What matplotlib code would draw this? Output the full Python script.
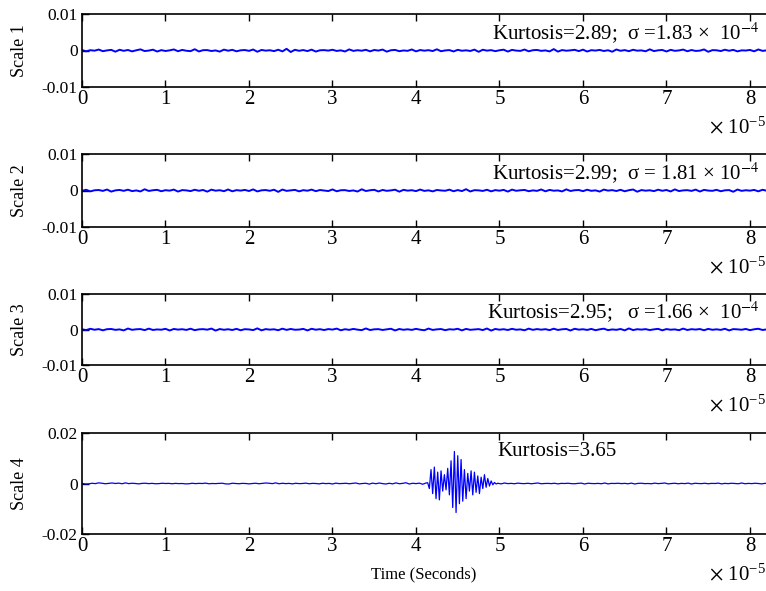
import numpy as np
import matplotlib
matplotlib.use("Agg")
import matplotlib.pyplot as plt

plt.rcParams['font.family'] = ['Liberation Serif', 'DejaVu Serif']
plt.rcParams['mathtext.fontset'] = 'stix'

# valores em unidades de 1e-4 (amplitude), tempo em unidades de 1e-5 s
escala1 = [
    1.2, -2.1, 0.8, -0.5, 2.6, -1.9, 0.3, 1.7, -3.2, 2.0, -0.9, 1.4, -2.4, 0.6, 3.1, -1.5, -0.2, 2.2, -2.8, 1.0,
    -1.3, 0.4, 2.9, -2.0, 1.6, -0.7, -1.8, 3.5, -2.6, 0.9, 1.1, -1.4, 0.2, -3.0, 2.4, -0.6, 1.8, -2.2, 0.5, 1.3,
    -1.0, 2.7, -3.4, 1.5, -0.4, 0.7, -1.7, 2.1, -2.5, 4.6, -4.1, 1.9, -0.8, 1.2, -1.6, 2.3, -2.9, 0.6, 1.0, -0.3,
    2.0, -1.2, 0.4, -2.7, 3.0, -1.1, 0.8, -0.6, 1.9, -2.3, 1.4, -0.2, 2.5, -3.1, 0.7, 1.6, -1.9, 0.1, -0.9, 2.8,
    -2.4, 1.3, -0.5, 0.9, -1.5, 3.3, -2.0, 0.2, 1.1, -2.6, 1.8, -0.7, 0.5, -1.3, 2.4, -3.6, 2.1, -0.4, 1.0, -1.8,
    0.6, 2.2, -2.9, 1.7, -0.3, -1.1, 2.6, -2.2, 0.8, 1.5, -1.0, 0.3, -2.5, 3.8, -3.0, 1.2, -0.6, 0.4, 1.9, -1.7,
    2.3, -2.8, 0.9, -0.2, 1.6, -1.4, 0.7, -3.3, 2.7, -0.8, 1.1, -1.9, 2.0, -0.5, 0.3, -2.1, 3.2, -1.6, 0.5, 1.4,
    -2.7, 1.8, -0.9, 0.2, 2.5, -2.0, 1.3, -1.2, -0.4, 2.9, -3.5, 1.0, 0.6, -1.5, 2.1, -0.7, 1.7, -2.4, 0.4, -0.1,
    1.5, -2.2, 2.8, -1.0, 0.3]
escala2 = [
    -0.8, 1.9, -2.4, 0.6, 1.3, -1.1, 2.7, -3.0, 0.4, 1.5, -0.9, 2.2, -1.7, 0.2, -2.6, 3.4, -1.2, 0.7, 1.8, -2.0,
    0.9, -0.4, 2.5, -2.9, 1.1, 0.3, -1.6, 2.0, -0.7, 1.4, -3.1, 2.3, -0.5, 0.8, -1.9, 2.8, -2.2, 1.0, -0.3, 1.6,
    -1.4, 3.0, -2.5, 0.5, 1.2, -0.8, 2.1, -3.7, 2.6, -1.0, 0.4, 1.7, -2.3, 0.9, -0.6, 2.4, -1.8, 1.3, -0.2, -1.5,
    2.9, -2.1, 0.7, 1.0, -1.3, 0.2, -2.8, 3.3, -1.4, 0.6, 1.9, -2.6, 1.5, -0.9, 0.3, 2.2, -3.2, 1.8, -0.4, 0.8,
    -1.7, 2.6, -1.1, 0.5, -2.4, 1.4, 0.1, -0.7, 2.3, -2.0, 1.2, -1.6, 3.6, -2.7, 0.9, 0.4, -1.2, 2.0, -2.3, 1.1,
    -0.5, 1.7, -3.0, 2.4, -0.8, 0.6, 1.5, -1.9, 0.3, -1.0, 2.8, -2.2, 1.6, -0.6, 0.2, -2.5, 3.1, -1.3, 0.7, 1.3,
    -1.8, 2.1, -0.9, 0.4, -2.9, 2.5, -0.3, 1.0, -1.4, 1.9, -2.1, 0.8, 2.7, -3.3, 1.2, -0.5, 0.6, -1.7, 2.2, -0.8,
    1.4, -2.6, 3.0, -1.5, 0.3, 0.9, -1.1, 2.4, -2.8, 1.7, -0.2, -0.9, 1.8, -2.0, 0.5, 1.1, -3.4, 2.6, -1.0, 0.7,
    -0.4, 1.6, -2.3, 2.0, -0.6]
escala3 = [
    0.5, -1.6, 2.0, -0.7, 1.1, -2.3, 0.9, 1.4, -1.0, 0.3, -2.5, 2.7, -0.9, 0.6, 1.2, -1.8, 2.4, -1.3, 0.2, -0.6,
    1.9, -2.8, 1.5, -0.3, 0.8, -1.2, 2.2, -1.9, 0.4, 1.0, -0.5, 2.6, -3.0, 1.3, -0.8, 0.7, -1.4, 1.8, -2.1, 0.9,
    0.2, -1.7, 3.2, -2.4, 1.1, -0.4, 0.6, -2.0, 2.3, -1.1, 1.5, -0.7, -0.2, 1.7, -2.6, 2.0, -0.6, 0.9, -1.5, 1.2,
    -0.3, 2.5, -2.2, 0.8, -1.0, 1.6, -0.4, -1.8, 2.9, -1.5, 0.5, 1.0, -1.3, 0.3, 2.1, -2.7, 1.4, -0.8, 0.6, -1.1,
    1.8, -0.5, -2.1, 2.6, -1.2, 0.4, 1.3, -1.9, 0.7, -0.2, 2.0, -2.5, 1.7, -0.9, 0.2, 1.1, -1.6, 2.8, -3.1, 1.5,
    -0.6, 0.8, -1.4, 1.9, -0.7, 0.3, -2.2, 2.4, -1.0, 1.2, -0.5, 0.9, -1.7, 2.2, -1.3, 0.6, 1.5, -2.9, 2.0, -0.4,
    0.7, -1.2, 1.6, -2.0, 0.5, 2.3, -1.8, 0.2, -0.9, 1.4, -2.4, 3.0, -1.6, 0.8, -0.3, 1.0, -1.5, 0.4, 1.8, -2.3,
    1.2, -0.6, 0.3, -1.9, 2.5, -1.4, 0.9, -0.2, 1.3, -2.1, 1.7, -0.8, 0.5, -1.1, 2.0, -2.6, 1.1, 0.4, -0.7, 1.5,
    -1.8, 0.6, 2.1, -1.3, 0.2]
# escala 4: ruido antes do pulso, pulso, ruido depois
escala4_antes = [
    0.5, -2.0, -1.5, 1.0, -0.5, 2.5, 1.0, -1.0, 0.5, 2.0, 0.0, 1.5, -1.0, 2.5, -0.5, 1.0, 0.0, -1.5, 0.5, 1.0,
    -0.5, 0.5, -1.0, -0.5, 1.0, 0.0, 0.5, -1.0, 0.5, -0.5, 0.0, -1.5, -1.0, 1.0, -0.5, 0.5, 0.0, 1.5, -1.0, 0.0,
    -0.5, 0.5, 1.0, -1.5, -2.0, 1.0, 0.0, -1.0, 0.5, 0.0, -1.5, 0.0, 1.0, -1.0, 0.5, 2.0, 1.0, -0.5, 2.5, -1.0,
    1.0, -0.5, 0.5, -1.5, 1.0, -0.5, 0.0, 1.5, -1.0, 0.5, 0.0, -1.5, 1.0, -0.5, 0.5, -2.0, 1.5, -0.5, 0.0, 1.0,
    -1.0, 0.5, 2.0, -1.5, 0.0, 1.0, -2.5, 1.5, -1.0, 2.0, -0.5, -2.0, 1.0, -1.5, 2.5, -1.0, 0.5, 3.0, -2.0, 1.0,
    -0.5, 1.5, -3.0, 2.0]
escala4_pulso = [3, -20, 55, -40, 65, -60, 45, -65, 50, -30, 35, -25, 60, -45, 90, -95, 127, -115, 110, -80,
                 95, -70, 55, -60, 40, -30, 50, -45, 45, -35, 30, -40, 25, -20, 35, -15, 20, -10, 10, -5, 4, -2]
escala4_depois = [
    1.0, -1.5, 2.0, -0.5, 0.5, -1.0, 1.5, 0.0, -0.5, 1.0, -1.0, 0.5, 2.0, -1.0, 0.0, 0.5, -0.5, 1.0, -1.5, 0.5,
    0.0, 1.0, -0.5, -1.0, 0.5, 1.5, -2.0, 1.0, 0.0, -0.5, 0.5, -1.0, 2.0, -1.5, 0.5, 0.0, 1.0, -0.5, 0.5, -1.0,
    1.5, -2.0, 0.5, 1.0, -0.5, 0.0, -1.0, 1.5, -0.5, 0.5, 2.0, -1.5, 0.0, 1.0, -1.0, 0.5, -0.5, 1.5, -2.0, 1.0,
    0.0, -0.5, 1.0, -1.0, 0.5, 0.0, 1.5, -1.5, 0.5, -0.5, 1.0, 0.0, -1.0, 2.0, -1.0, 0.5, -0.5, 1.0, 0.0, -1.5,
    0.5, 1.0]

textos = ["Kurtosis=2.89;  σ =1.83 ×  10$^{-4}$",
          "Kurtosis=2.99;  σ = 1.81 × 10$^{-4}$",
          "Kurtosis=2.95;   σ =1.66 ×  10$^{-4}$",
          "Kurtosis=3.65"]
rotulos = ["Scale 1", "Scale 2", "Scale 3", "Scale 4"]

tmax = 8.192
passo = 0.04
passo_pulso = 0.02
inicio_pulso = 4.14
inicio_depois = 4.98

t123 = np.linspace(0, 8.2, len(escala1))
t4 = np.concatenate([np.arange(len(escala4_antes)) * passo,
                     inicio_pulso + np.arange(len(escala4_pulso)) * passo_pulso,
                     inicio_depois + np.arange(len(escala4_depois)) * passo])
s4 = np.concatenate([escala4_antes, escala4_pulso, escala4_depois]) * 1e-4

sinais = [(t123, np.array(escala1) * 1e-4), (t123, np.array(escala2) * 1e-4),
          (t123, np.array(escala3) * 1e-4), (t4, s4)]

W, H = 766, 591
fig = plt.figure(figsize=(W / 100, H / 100), dpi=100)
# (topo, base) em pixels
caixas = [(14, 87), (154, 227), (294, 365), (433, 534)]

for i, (topo, base) in enumerate(caixas):
    alt = base - topo
    ax = fig.add_axes([82 / W, (H - base) / H, (W - 82) / W, alt / H])
    t, s = sinais[i]
    ax.plot(t, s, color="#0000ff", lw=1.4 if i < 3 else 0.9)
    lim = 0.01 if i < 3 else 0.02
    ax.set_ylim(-lim, lim)
    ax.set_xlim(0, tmax)
    ax.set_yticks([-lim, 0, lim])
    ax.set_yticklabels(["-%g" % lim, "0", "%g" % lim], fontsize=12.5)
    ax.set_xticks(range(9))
    ax.set_xticklabels([str(k) for k in range(9)], fontsize=15)
    ax.tick_params(direction="in", top=True, right=False, length=5, width=1, pad=3)
    ax.tick_params(axis="x", pad=2)
    ax.spines["right"].set_visible(False)
    for sp in ["left", "top", "bottom"]:
        ax.spines[sp].set_linewidth(1.2)
    ax.set_ylabel(rotulos[i], fontsize=13, labelpad=10)
    if i < 3:
        ax.text(8.12, lim * 0.47, textos[i], fontsize=15, ha="right", va="center")
    else:
        ax.text(4.97, lim * 0.64, textos[i], fontsize=15, ha="left", va="center")
    # multiplicador do eixo x
    ax.text(1.0, -41 / alt, r"$\times$ 10$^{\mathregular{-5}}$", transform=ax.transAxes,
            fontsize=15, ha="right", va="center")

ax.set_xlabel("Time (Seconds)", fontsize=12, labelpad=8)

fig.savefig("out.png", dpi=100)
